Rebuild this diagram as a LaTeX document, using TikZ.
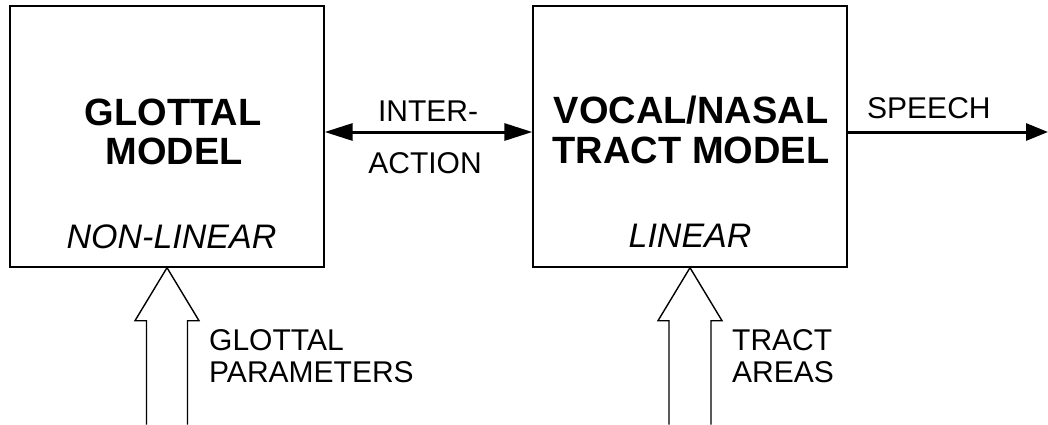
\documentclass[tikz,border=0pt]{standalone}
\usepackage{fontspec}
\setmainfont{Liberation Sans}
\usetikzlibrary{arrows.meta,calc}
\begin{document}
\begin{tikzpicture}[x=1pt,y=-1pt,
  block/.style={draw,line width=1.4pt,minimum width=314pt,minimum height=261pt,inner sep=0pt},
  title/.style={inner sep=0pt,anchor=base,font=\fontsize{38}{39}\selectfont\bfseries},
  kind/.style={inner sep=0pt,anchor=base,font=\fontsize{34}{36}\selectfont\itshape},
  lbl/.style={inner sep=0pt,font=\fontsize{30}{32}\selectfont},
  flow/.style={line width=3pt},
  hollow/.style={draw,line width=1.4pt,line join=miter}]
\useasboundingbox (0,0) rectangle (1048,424);

% the two model blocks
\node[block] (g) at (167,136.5) {};
\node[block] (v) at (690,136.5) {};

\node[title] (gt1) at (173,125) {GLOTTAL};
\node[title] (gt2) at (174,164) {MODEL};
\node[kind]  (gk)  at (171.5,248) {NON-LINEAR};

\node[title] (vt1) at (691,123) {VOCAL/NASAL};
\node[title] (vt2) at (691,163) {TRACT MODEL};
\node[kind]  (vk)  at (690,247) {LINEAR};

% interaction between the blocks and the speech output
\coordinate (ay) at (0,132);
\coordinate (out) at (1048,132);
\draw[flow,{Triangle[length=28pt,width=17pt]}-{Triangle[length=28pt,width=17pt]}]
  (g.east |- ay) -- (v.west |- ay);
\draw[flow,-{Triangle[length=22pt,width=17pt]}] (v.east |- ay) -- (out);

\node[lbl,anchor=base] (i1) at (428,121) {INTER-};
\node[lbl,anchor=base] (i2) at (425,173) {ACTION};
\node[lbl,anchor=base west] (sp) at (867,118) {SPEECH};

% hollow input arrows from below
\coordinate (gtip) at (g.south);
\coordinate (vtip) at (v.south);
\draw[hollow] ($(gtip)+(-20.5,157)$) -- ($(gtip)+(-20.5,53)$) -- ($(gtip)+(-32,53)$)
  -- (gtip) -- ($(gtip)+(32,53)$) -- ($(gtip)+(20.5,53)$) -- ($(gtip)+(20.5,157)$);
\draw[hollow] ($(vtip)+(-21,157)$) -- ($(vtip)+(-21,53)$) -- ($(vtip)+(-32,53)$)
  -- (vtip) -- ($(vtip)+(32,53)$) -- ($(vtip)+(21,53)$) -- ($(vtip)+(21,157)$);

\node[lbl,anchor=base west] (gp1) at (209,350) {GLOTTAL};
\node[lbl,anchor=base west] (gp2) at (209,382) {PARAMETERS};
\node[lbl,anchor=base west] (ta1) at (732,350) {TRACT};
\node[lbl,anchor=base west] (ta2) at (732,382) {AREAS};
\end{tikzpicture}
\end{document}
